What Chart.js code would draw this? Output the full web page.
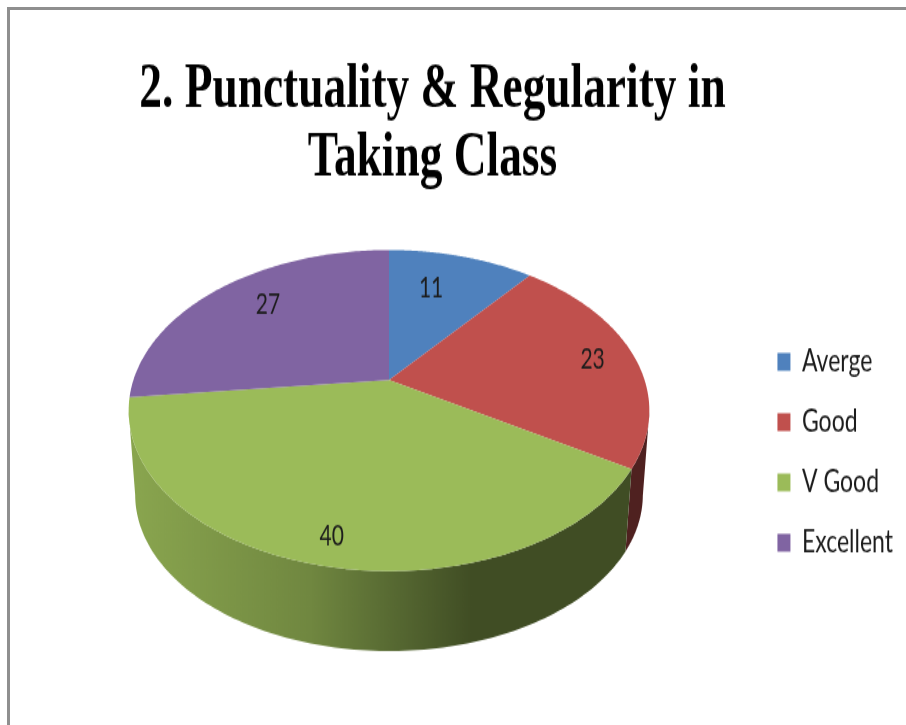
<!DOCTYPE html>
<html>
<head>
<meta charset="utf-8">
<script src="https://cdn.jsdelivr.net/npm/chart.js@4"></script>
<style>
html, body { margin: 0; padding: 0; background: #fff; overflow: hidden; }
#frame { position: absolute; left: 7px; top: 7px; width: 910px; height: 730px; border-left: 3px solid #8f8f8f; border-top: 3px solid #8f8f8f; }
#chart { position: absolute; left: 0; top: 0; transform-origin: 0 0; transform: scaleY(1.3705); }
</style>
</head>
<body>
<div id="frame"></div>
<canvas id="chart" width="906" height="529"></canvas>
<script>
var categories = ['Averge', 'Good', 'V Good', 'Excellent'];
var values = [11, 23, 40, 27];
var sliceColors = ['#4f81bd', '#c0504d', '#9bbb59', '#8064a2'];
var labelReach = [0.69, 0.83, 0.87, 0.75];
var labelTurn = [-0.07, 0, 0, 0.07];
var titleLines = ['2. Punctuality & Regularity in', 'Taking Class'];

// tilted pie, canvas is stretched by css so y here is screen y / 1.3705
var pie = { x: 389, y: 277.3, a: 255.6, b: 112.9, p: -0.19, centerY: 299.5 };
var wall = { shrink: 0.975, drop: 61.3 };

function project(angle, reach) {
    var u = Math.cos(angle) * reach, v = Math.sin(angle) * reach;
    var d = 1 + pie.p * v;
    return { x: pie.x + pie.a * u / d, y: pie.y + pie.b * v / d };
}
function lower(pt) {
    return {
        x: pie.x + (pt.x - pie.x) * wall.shrink,
        y: pie.centerY + (pt.y - pie.centerY) * wall.shrink + wall.drop
    };
}
function shade(hex, f) {
    var n = parseInt(hex.slice(1), 16);
    return 'rgb(' + Math.round((n >> 16) * f) + ',' + Math.round(((n >> 8) & 255) * f) + ',' + Math.round((n & 255) * f) + ')';
}
function samples(arc) {
    var out = [], steps = 120;
    for (var i = 0; i <= steps; i++) {
        out.push(arc.startAngle + (arc.endAngle - arc.startAngle) * i / steps);
    }
    return out;
}

var tiltedPie = {
    id: 'tiltedPie',
    beforeDatasetsDraw: function(chart) {
        var ctx = chart.ctx;
        var arcs = chart.getDatasetMeta(0).data;
        ctx.save();
        // side wall first, the top covers whatever overlaps
        arcs.forEach(function(arc, i) {
            var front = samples(arc).filter(function(a) { return Math.sin(a) >= 0.19; });
            if (front.length < 2) return;
            var g = ctx.createLinearGradient(128, 0, 650, 0);
            g.addColorStop(0, shade(sliceColors[i], 0.89));
            g.addColorStop(0.35, shade(sliceColors[i], 0.72));
            g.addColorStop(0.52, shade(sliceColors[i], 0.55));
            g.addColorStop(0.66, shade(sliceColors[i], 0.41));
            g.addColorStop(1, shade(sliceColors[i], 0.41));
            ctx.beginPath();
            front.forEach(function(a, k) {
                var pt = project(a, 1);
                if (k === 0) ctx.moveTo(pt.x, pt.y); else ctx.lineTo(pt.x, pt.y);
            });
            front.slice().reverse().forEach(function(a) {
                var pt = lower(project(a, 1));
                ctx.lineTo(pt.x, pt.y);
            });
            ctx.closePath();
            ctx.fillStyle = g;
            ctx.fill();
        });
        // top of the pie
        arcs.forEach(function(arc, i) {
            ctx.beginPath();
            ctx.moveTo(pie.x, pie.y);
            samples(arc).forEach(function(a) {
                var pt = project(a, 1);
                ctx.lineTo(pt.x, pt.y);
            });
            ctx.closePath();
            ctx.fillStyle = sliceColors[i];
            ctx.fill();
        });
        // value labels
        ctx.font = '21px Lato';
        ctx.fillStyle = '#1c1c1c';
        ctx.textAlign = 'center';
        ctx.textBaseline = 'middle';
        arcs.forEach(function(arc, i) {
            var pt = project((arc.startAngle + arc.endAngle) / 2 + labelTurn[i], labelReach[i]);
            ctx.fillText(String(values[i]), pt.x, pt.y);
        });
        ctx.restore();
        return false;
    },
    afterLayout: function(chart) {
        // title sits left of the canvas middle
        chart.titleBlock.left -= 20.5;
        chart.titleBlock.right = chart.titleBlock.left + 906;
    }
};

new Chart(document.getElementById('chart').getContext('2d'), {
    type: 'pie',
    data: {
        labels: categories,
        datasets: [{ data: values, backgroundColor: sliceColors, borderWidth: 0 }]
    },
    options: {
        responsive: false,
        animation: false,
        devicePixelRatio: 1,
        layout: { padding: { right: 3, bottom: 14 } },
        plugins: {
            tooltip: { enabled: false },
            title: {
                display: true,
                text: titleLines,
                color: '#000',
                font: { family: '"Liberation Serif"', size: 45.4, weight: 'bold', lineHeight: 1.11 },
                padding: { top: 41, bottom: 3 }
            },
            legend: {
                position: 'right',
                fullSize: false,
                labels: {
                    color: '#1c1c1c',
                    font: { family: 'Lato', size: 23 },
                    boxWidth: 13,
                    boxHeight: 13,
                    padding: 21
                }
            }
        }
    },
    plugins: [tiltedPie]
});
</script>
</body>
</html>
